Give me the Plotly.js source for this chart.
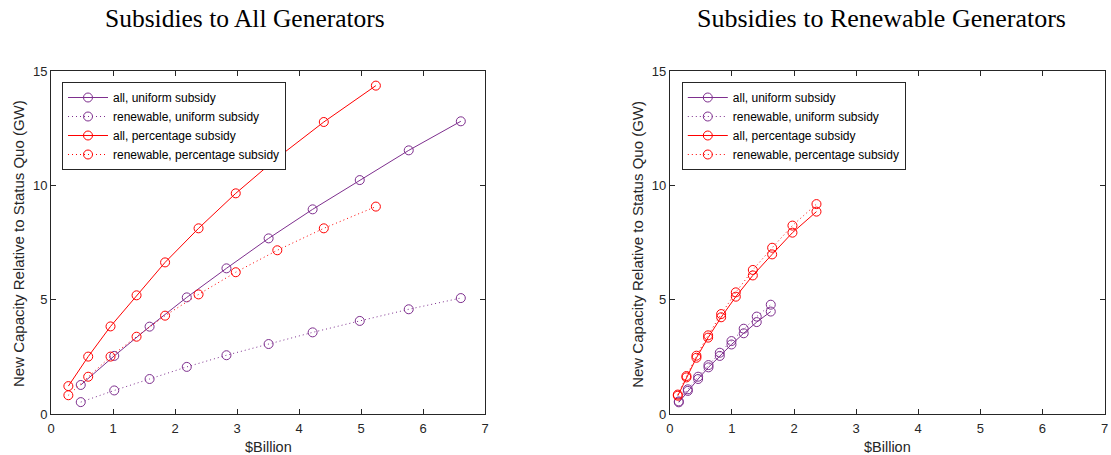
<!DOCTYPE html>
<html>
<head>
<meta charset="utf-8">
<script src="https://cdn.plot.ly/plotly-3.0.1.min.js"></script>
<style>html,body{margin:0;padding:0;background:#fff;}#chart{width:1111px;height:455px;}</style>
</head>
<body>
<div id="chart"></div>
<script>
// ---- Data ----
// Left panel: Subsidies to All Generators
const leftXUniform   = [0.48, 1.02, 1.59, 2.19, 2.83, 3.51, 4.22, 4.98, 5.77, 6.61];
const leftAllUniform = [1.27, 2.54, 3.82, 5.10, 6.37, 7.68, 8.95, 10.23, 11.53, 12.80];
const leftRenUniform = [0.52, 1.03, 1.53, 2.06, 2.57, 3.06, 3.57, 4.07, 4.58, 5.07];
const leftXPct       = [0.28, 0.60, 0.96, 1.38, 1.84, 2.38, 2.98, 3.65, 4.40, 5.24];
const leftAllPct     = [1.22, 2.51, 3.83, 5.19, 6.63, 8.12, 9.65, 11.20, 12.77, 14.36];
const leftRenPct     = [0.82, 1.63, 2.51, 3.38, 4.30, 5.23, 6.20, 7.16, 8.12, 9.07];
// Right panel: Subsidies to Renewable Generators
const rightXUniform   = [0.145, 0.29, 0.456, 0.623, 0.805, 0.993, 1.19, 1.40, 1.626];
const rightAllUniform = [0.51, 1.01, 1.53, 2.04, 2.54, 3.04, 3.53, 4.02, 4.48];
const rightRenUniform = [0.55, 1.08, 1.63, 2.14, 2.68, 3.19, 3.73, 4.26, 4.78];
const rightXPct       = [0.129, 0.268, 0.429, 0.617, 0.827, 1.063, 1.337, 1.648, 1.975, 2.362];
const rightAllPct     = [0.80, 1.60, 2.46, 3.34, 4.23, 5.13, 6.06, 6.98, 7.93, 8.85];
const rightRenPct     = [0.85, 1.66, 2.55, 3.44, 4.37, 5.32, 6.30, 7.27, 8.24, 9.18];

const seriesNames = ['all, uniform subsidy', 'renewable, uniform subsidy',
                     'all, percentage subsidy', 'renewable, percentage subsidy'];
const xTicks = [0, 1, 2, 3, 4, 5, 6, 7];
const yTicks = [0, 5, 10, 15];
const panelTitles = ['Subsidies to All Generators', 'Subsidies to Renewable Generators'];
const xTitle = '$Billion';
const yTitle = 'New Capacity Relative to Status Quo (GW)';

// ---- Styles ----
const PURPLE = '#7E2F8E';
const RED = '#FF0000';
const AX = '#262626';
const SANS = 'Liberation Sans, Arial, Helvetica, sans-serif';
const SERIF = 'Liberation Serif, Times New Roman, serif';
const W = 1111, H = 455;
const DOT = '1px,3px';
const R0 = 669.8, R1 = 1104.5;   // right panel pixel extent
const L0 = 51, L1 = 485;         // left panel pixel extent

function tr(x, y, name, color, dash, xa, ya, leg) {
  return {
    x: x, y: y, name: name, type: 'scatter', mode: 'lines+markers',
    xaxis: xa, yaxis: ya, legend: leg,
    line: {color: color, width: 1, dash: dash},
    marker: {symbol: 'circle-open', size: 9, color: color, line: {width: 1, color: color}},
    hoverinfo: 'skip'
  };
}

const data = [
  tr(leftXUniform, leftAllUniform, seriesNames[0], PURPLE, 'solid', 'x', 'y', 'legend'),
  tr(leftXUniform, leftRenUniform, seriesNames[1], PURPLE, DOT, 'x', 'y', 'legend'),
  tr(leftXPct, leftAllPct, seriesNames[2], RED, 'solid', 'x', 'y', 'legend'),
  tr(leftXPct, leftRenPct, seriesNames[3], RED, DOT, 'x', 'y', 'legend'),
  tr(rightXUniform, rightAllUniform, seriesNames[0], PURPLE, 'solid', 'x2', 'y2', 'legend2'),
  tr(rightXUniform, rightRenUniform, seriesNames[1], PURPLE, DOT, 'x2', 'y2', 'legend2'),
  tr(rightXPct, rightAllPct, seriesNames[2], RED, 'solid', 'x2', 'y2', 'legend2'),
  tr(rightXPct, rightRenPct, seriesNames[3], RED, DOT, 'x2', 'y2', 'legend2')
];

function xaxis(domain, anchor) {
  return {
    domain: domain, anchor: anchor, range: [0, 7], tickvals: xTicks,
    showline: true, mirror: 'ticks', linecolor: AX, linewidth: 1,
    ticks: 'inside', ticklen: 5, tickcolor: AX, tickwidth: 1,
    showgrid: false, zeroline: false, ticklabeloverflow: 'allow',
    ticklabelstandoff: 2,
    tickfont: {family: SANS, size: 13, color: AX}, fixedrange: true
  };
}
function yaxis(domain, anchor) {
  return {
    domain: domain, anchor: anchor, range: [0, 15], tickvals: yTicks,
    showline: true, mirror: 'ticks', linecolor: AX, linewidth: 1,
    ticks: 'inside', ticklen: 5, tickcolor: AX, tickwidth: 1,
    showgrid: false, zeroline: false, ticklabeloverflow: 'allow',
    tickfont: {family: SANS, size: 13, color: AX}, fixedrange: true
  };
}

const yDom = [1 - 414 / H, 1 - 71 / H];
const legendStyle = {
  xanchor: 'left', yanchor: 'top', bgcolor: '#ffffff',
  bordercolor: AX, borderwidth: 1, tracegroupgap: 0, itemwidth: 40,
  font: {family: SANS, size: 12, color: '#000'}
};

const annots = [];
function addText(text, xpx, ypx, font, angle) {
  annots.push({text: text, xref: 'paper', yref: 'paper', x: xpx / W, y: 1 - ypx / H,
    xanchor: 'center', yanchor: 'middle', showarrow: false, font: font, textangle: angle || 0});
}
addText(panelTitles[0], 244.5, 19, {family: SERIF, size: 25.5, color: '#000'});
addText(panelTitles[1], 881, 19, {family: SERIF, size: 26, color: '#000'});
addText(xTitle, (L0 + L1) / 2, 447, {family: SANS, size: 14.5, color: AX});
addText(xTitle, (R0 + R1) / 2, 447, {family: SANS, size: 14.5, color: AX});
addText(yTitle, L0 - 33, 244, {family: SANS, size: 15, color: AX}, -90);
addText(yTitle, R0 - 33, 244, {family: SANS, size: 15, color: AX}, -90);

const layout = {
  width: W, height: H,
  margin: {l: 0, r: 0, t: 0, b: 0, pad: 0},
  paper_bgcolor: '#fff', plot_bgcolor: '#fff',
  showlegend: true,
  xaxis: xaxis([L0 / W, L1 / W], 'y'),
  yaxis: yaxis(yDom, 'x'),
  xaxis2: xaxis([R0 / W, R1 / W], 'y2'),
  yaxis2: yaxis(yDom, 'x2'),
  legend: Object.assign({x: (L0 + 11) / W, y: 1 - 82 / H}, legendStyle),
  legend2: Object.assign({x: (R0 + 12) / W, y: 1 - 82 / H}, legendStyle),
  annotations: annots
};

Plotly.newPlot('chart', data, layout, {staticPlot: true, displayModeBar: false});
</script>
</body>
</html>
